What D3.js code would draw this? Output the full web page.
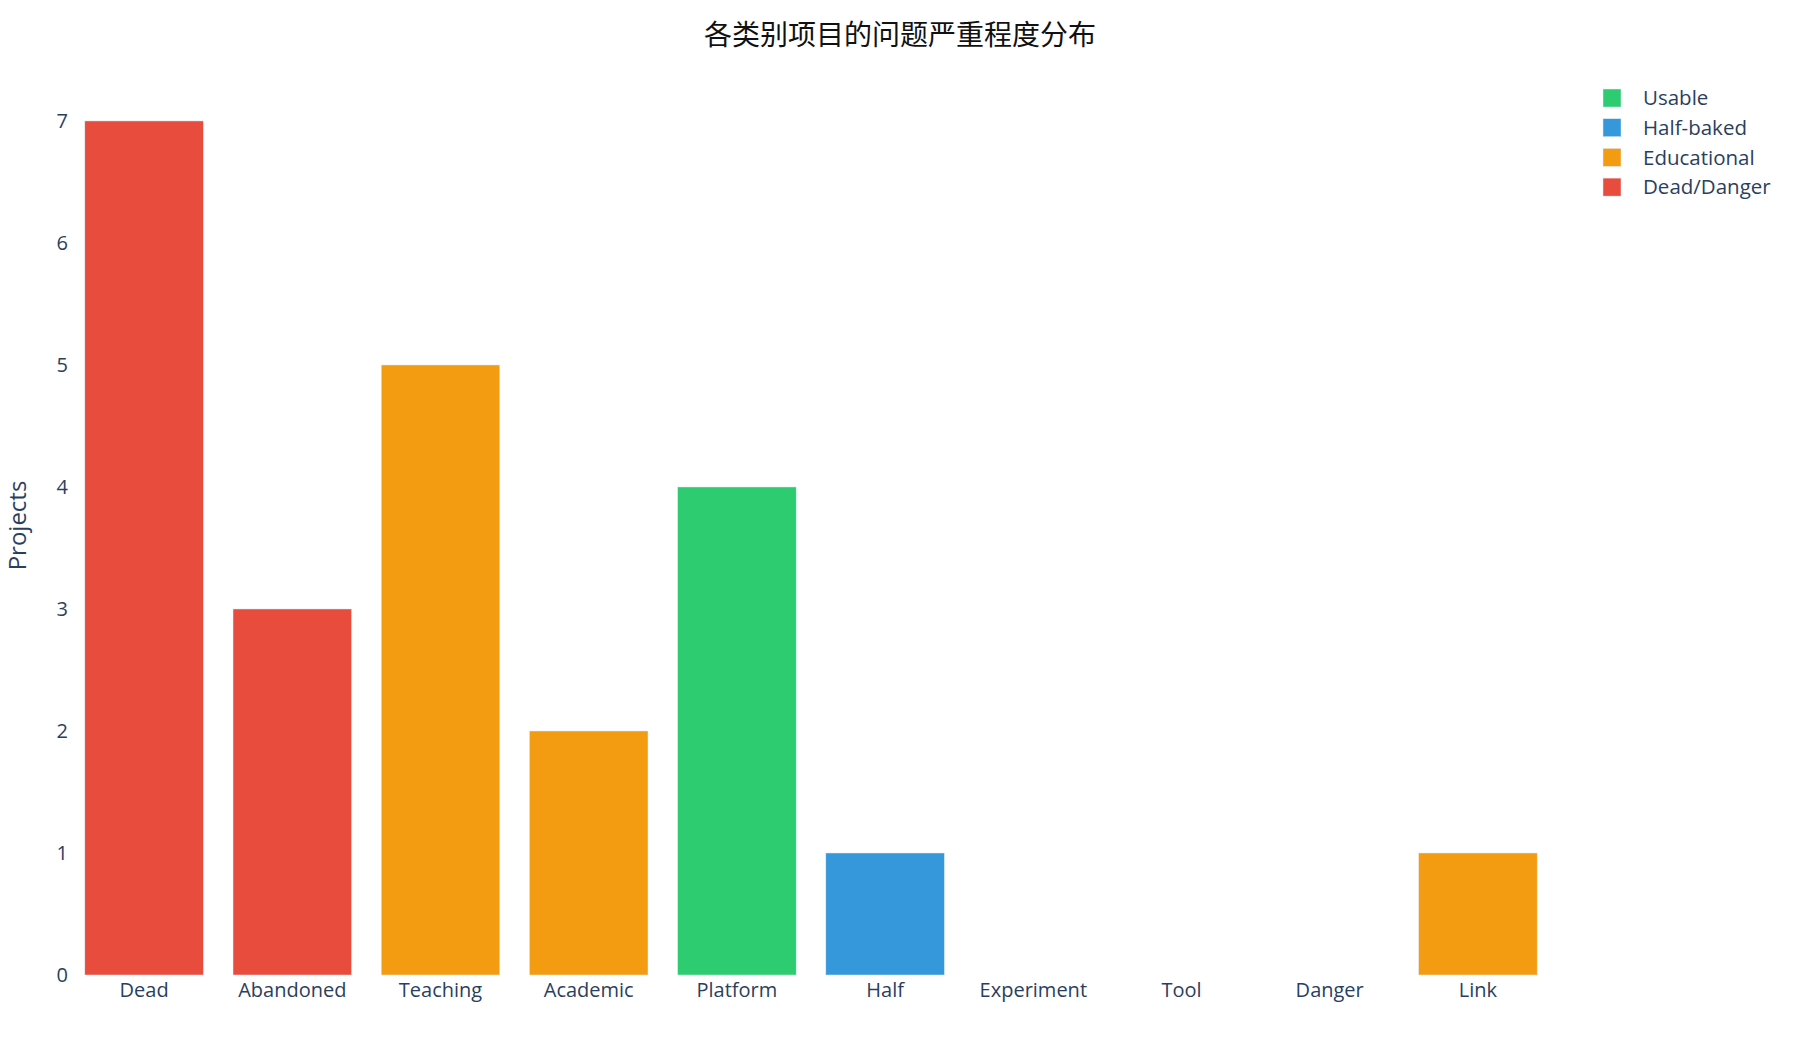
<!DOCTYPE html>
<html>
<head>
<meta charset="utf-8">
<script src="https://cdn.jsdelivr.net/npm/d3@7"></script>
<style>
  body { margin: 0; background: #fff; }
  text { font-family: "Open Sans", verdana, arial, sans-serif; }
</style>
</head>
<body>
<div id="chart"></div>
<script>
// data
var categories = ["Dead", "Abandoned", "Teaching", "Academic", "Platform", "Half", "Experiment", "Tool", "Danger", "Link"]
var counts     = [7, 3, 5, 2, 4, 1, 0, 0, 0, 1]
var groups     = ["Dead/Danger", "Dead/Danger", "Educational", "Educational", "Usable", "Half-baked", "Half-baked", "Educational", "Dead/Danger", "Educational"]
var legendNames  = ["Usable", "Half-baked", "Educational", "Dead/Danger"]
var legendColors = ["#2ecc71", "#3498db", "#f39c12", "#e74c3c"]
var yTicks = [0, 1, 2, 3, 4, 5, 6, 7]
var chartTitle = "各类别项目的问题严重程度分布"
var yTitle = "Projects"

function makeBars(parentName, SVG_name){
  d3.select("#" + SVG_name).remove()
  var W = 1800, H = 1050
  var margin = {top: 76, right: 248, bottom: 75, left: 70}
  var width = W - margin.left - margin.right
  var height = H - margin.top - margin.bottom
  var textColor = "#2a3f5f"

  var color = d3.scaleOrdinal().domain(legendNames).range(legendColors)

  var x = d3.scaleBand()
    .domain(categories)
    .range([0, width])
    .paddingInner(0.2)
    .paddingOuter(0.1)

  var y = d3.scaleLinear()
    .domain([0, d3.max(counts) / 0.95])
    .range([height, 0])

  var root = d3.select("#" + parentName)
    .append("svg")
    .attr("id", SVG_name)
    .attr("width", W)
    .attr("height", H)

  var svg = root.append("g")
    .attr("transform", "translate(" + margin.left + "," + margin.top + ")")

  var data = categories.map(function(c, i){ return {cat: c, v: counts[i], g: groups[i]} })

  svg.selectAll("rect.bar")
    .data(data)
    .join("rect")
      .attr("class", "bar")
      .attr("x", d => x(d.cat))
      .attr("width", x.bandwidth())
      .attr("y", d => y(d.v))
      .attr("height", d => y(0) - y(d.v))
      .attr("fill", d => color(d.g))
      .attr("stroke", d => d.v > 0 ? "#E5ECF6" : "none")
      .attr("stroke-width", 0.5)

  // x axis labels
  var xAxis = svg.append("g")
    .attr("transform", `translate(0,${height})`)
    .call(d3.axisBottom(x).tickSize(0).tickPadding(8))
  xAxis.select(".domain").remove()
  xAxis.selectAll("text")
    .style("font-size", "20px")
    .attr("fill", textColor)

  // y axis labels
  var yAxis = svg.append("g")
    .call(d3.axisLeft(y).tickValues(yTicks).tickSize(0).tickPadding(2).tickFormat(d3.format("d")))
  yAxis.select(".domain").remove()
  yAxis.selectAll("text")
    .style("font-size", "20px")
    .attr("fill", textColor)

  // y title
  root.append("text")
    .attr("transform", "translate(26," + (margin.top + height / 2) + ") rotate(-90)")
    .attr("text-anchor", "middle")
    .style("font-size", "24px")
    .attr("fill", textColor)
    .text(yTitle)

  // title
  root.append("text")
    .attr("x", W / 2)
    .attr("y", 45)
    .attr("text-anchor", "middle")
    .style("font-family", "'Noto Sans CJK SC', sans-serif")
    .style("font-size", "28px")
    .attr("fill", "#111")
    .text(chartTitle)

  // Handmade legend
  var legend = root.append("g").attr("transform", "translate(1603,98)")
  legendNames.forEach(function(name, i){
    legend.append("rect")
      .attr("x", 0).attr("y", i * 29.7 - 9)
      .attr("width", 18).attr("height", 18)
      .attr("fill", legendColors[i])
      .attr("stroke", "#E5ECF6").attr("stroke-width", 0.5)
    legend.append("text")
      .attr("x", 40).attr("y", i * 29.7)
      .attr("dy", "0.35em")
      .style("font-size", "20.5px")
      .attr("fill", textColor)
      .text(name)
  })
}

makeBars("chart", "barsvg")
</script>
</body>
</html>
